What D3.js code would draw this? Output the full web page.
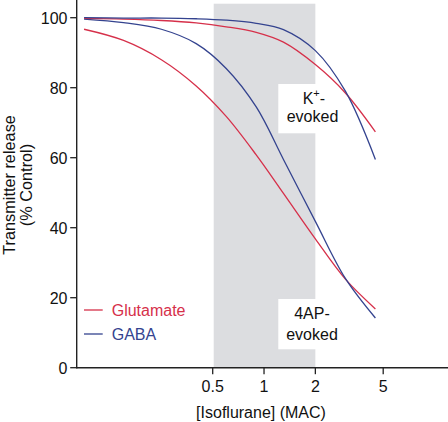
<!DOCTYPE html>
<html><head><meta charset="utf-8">
<script src="https://cdn.jsdelivr.net/npm/d3@7"></script>
<style>html,body{margin:0;padding:0;background:#fff;}svg{display:block;}</style>
</head><body>
<script>
// ---- data ----
const concMAC = [0.088, 0.15, 0.25, 0.4, 0.6, 0.9, 1.3, 2, 3, 4.5];
const glutamate4AP = [96.7, 93.5, 88.0, 80.5, 71.8, 60.8, 49.8, 36.8, 25.3, 16.8];
const gaba4AP      = [99.6, 98.6, 96.7, 92.6, 85.5, 74.5, 59.5, 41.8, 25.5, 14.2];
const glutamateK   = [99.8, 99.6, 99.2, 98.5, 97.4, 95.8, 93.0, 86.6, 78.5, 67.4];
const gabaK        = [100, 99.9, 99.9, 99.7, 99.3, 98.4, 96.6, 90.6, 79.0, 59.5];
const xTicks = [0.5, 1, 2, 5];
const yTicks = [0, 20, 40, 60, 80, 100];
const bandRange = [0.5, 2];
const bandTop = 104;
const seriesNames = ["Glutamate", "GABA"];
const seriesColors = ["#d6304a", "#34438f"];

const W = 448, H = 422;
const FONT = "'Liberation Sans', Arial, Helvetica, sans-serif";
const FS = 16;

const svg = d3.select("body").append("svg").attr("width", W).attr("height", H);
const x = d3.scaleLog().domain([0.5, 5]).range([212.7, 383.2]);
const y = d3.scaleLinear().domain([0, 100]).range([367.7, 17.7]);
const axisX = 76.7, axisY = y(0);

function stext(px, py, str, anchor, color) {
  return svg.append("text").attr("x", px).attr("y", py).attr("text-anchor", anchor || "start")
    .attr("font-family", FONT).attr("font-size", FS).attr("fill", color || "#111").text(str);
}

// gray band
svg.append("rect")
  .attr("x", x(bandRange[0]) + 1).attr("y", y(bandTop))
  .attr("width", x(bandRange[1]) - x(bandRange[0]) - 1)
  .attr("height", y(0) - y(bandTop))
  .attr("fill", "#dcdde0");

// white label boxes
svg.append("rect").attr("x", 278.3).attr("y", 84).attr("width", 40).attr("height", 49.3).attr("fill", "#fff");
svg.append("rect").attr("x", 278.3).attr("y", 299).attr("width", 40).attr("height", 50.3).attr("fill", "#fff");

// curves
const line = d3.line().x(d => x(d[0])).y(d => y(d[1])).curve(d3.curveCatmullRom.alpha(0.5));
const curves = [[glutamate4AP, 0], [gaba4AP, 1], [glutamateK, 0], [gabaK, 1]];
curves.forEach(([vals, c]) => {
  svg.append("path").datum(concMAC.map((m, i) => [m, vals[i]]))
    .attr("d", line).attr("fill", "none")
    .attr("stroke", seriesColors[c]).attr("stroke-width", 1.3);
});

// axes
svg.append("line").attr("x1", axisX).attr("x2", axisX).attr("y1", 0).attr("y2", axisY + 0.7)
  .attr("stroke", "#222").attr("stroke-width", 1.4);
svg.append("line").attr("x1", axisX).attr("x2", W).attr("y1", axisY).attr("y2", axisY)
  .attr("stroke", "#222").attr("stroke-width", 1.4);

yTicks.forEach(t => {
  svg.append("line").attr("x1", axisX - 6.5).attr("x2", axisX).attr("y1", y(t)).attr("y2", y(t))
    .attr("stroke", "#222").attr("stroke-width", 1.3);
  stext(67.5, y(t) + 5.8, String(t), "end");
});
xTicks.forEach(t => {
  svg.append("line").attr("x1", x(t)).attr("x2", x(t)).attr("y1", axisY).attr("y2", axisY + 6.5)
    .attr("stroke", "#222").attr("stroke-width", 1.3);
  stext(x(t), 391.5, String(t), "middle");
});

// axis titles
stext(261, 417.5, "[Isoflurane] (MAC)", "middle");
const yl = svg.append("g").attr("transform", "translate(0,185) rotate(-90)");
yl.append("text").attr("x", 0).attr("y", 14.5).attr("text-anchor", "middle")
  .attr("font-family", FONT).attr("font-size", 16.3).attr("fill", "#111").text("Transmitter release");
yl.append("text").attr("x", 0).attr("y", 32).attr("text-anchor", "middle")
  .attr("font-family", FONT).attr("font-size", 16.3).attr("fill", "#111").text("(% Control)");

// annotations
const k = stext(302.7, 104, "", "start");
k.append("tspan").text("K");
k.append("tspan").attr("font-size", 11).attr("dy", -7).text("+");
k.append("tspan").attr("dy", 7).text("-");
stext(312.5, 121.5, "evoked", "middle");
stext(312, 319.3, "4AP-", "middle");
stext(312, 340, "evoked", "middle");

// legend
seriesNames.forEach((n, i) => {
  const ly = 310 + i * 24;
  svg.append("line").attr("x1", 84).attr("x2", 102.7).attr("y1", ly).attr("y2", ly)
    .attr("stroke", seriesColors[i]).attr("stroke-width", 1.3);
  stext(111.7, ly + 5.8, n, "start", seriesColors[i]);
});
</script>
</body></html>
